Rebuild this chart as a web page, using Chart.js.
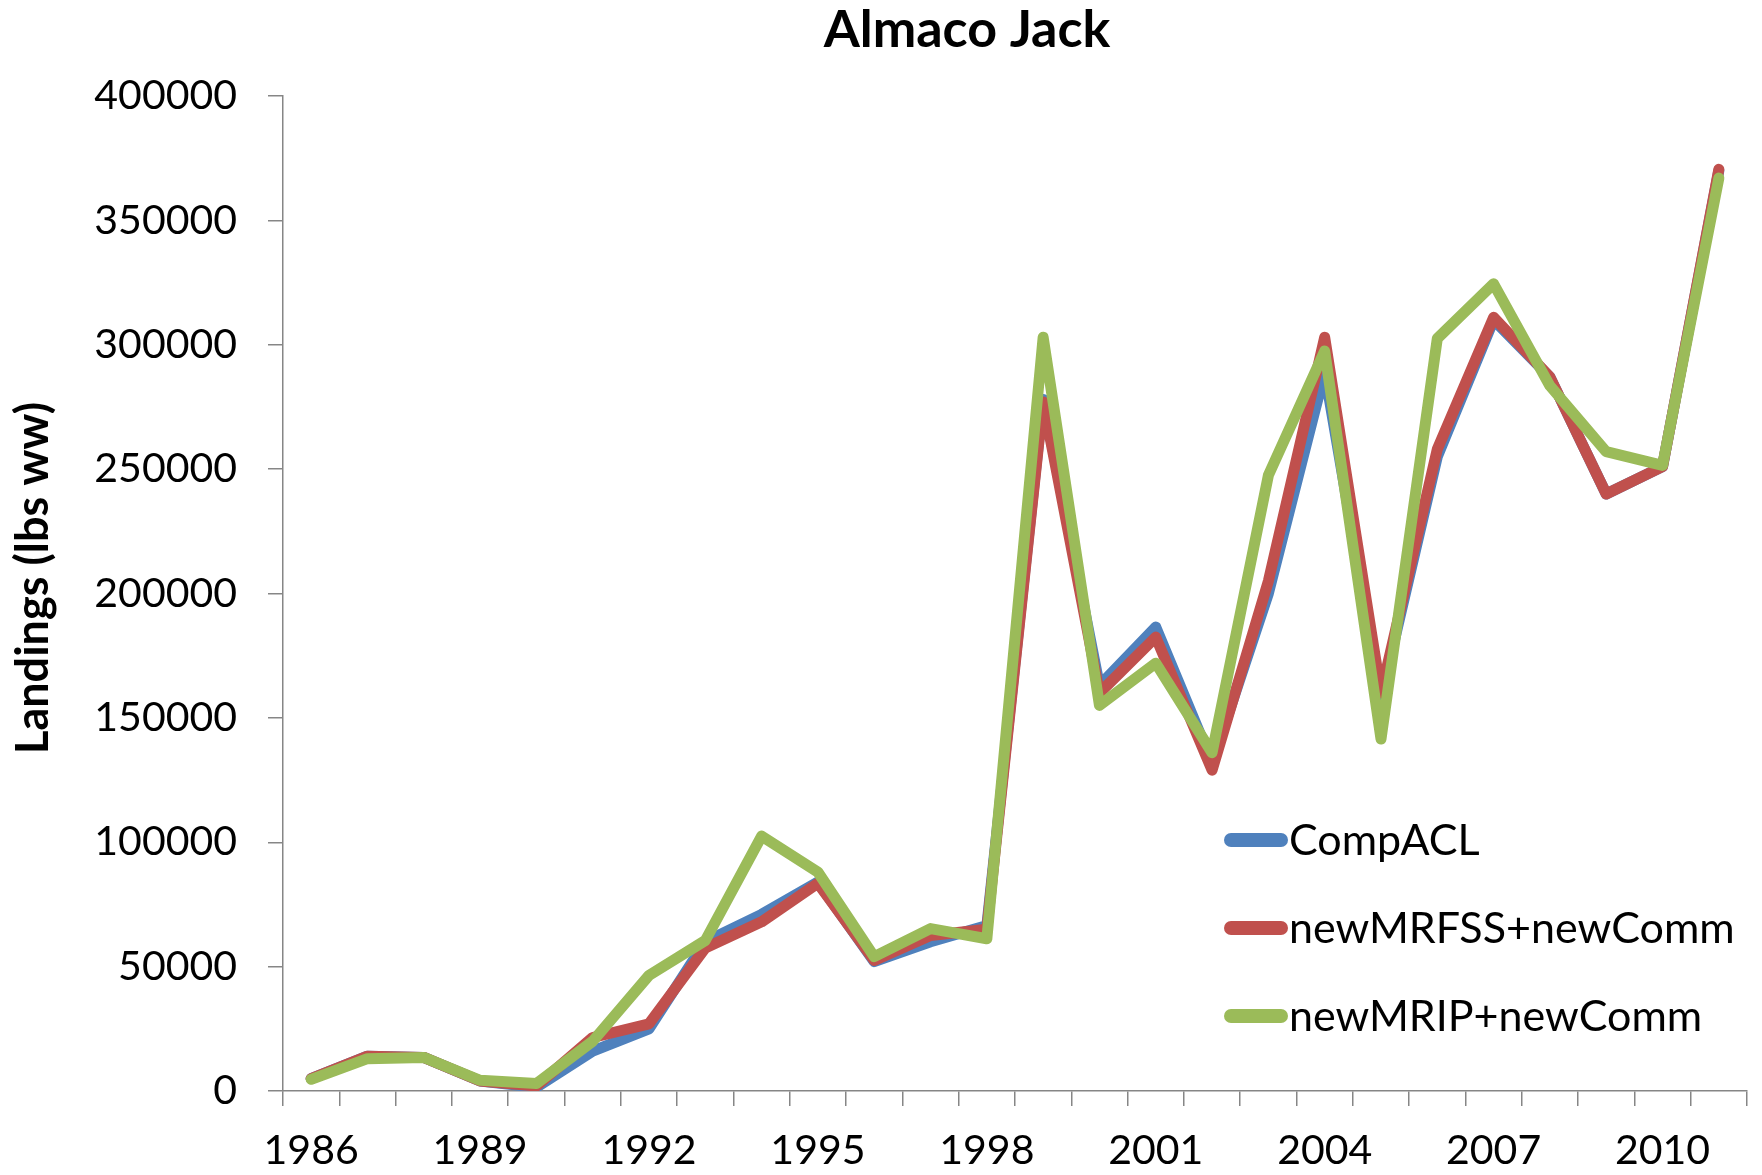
<!DOCTYPE html>
<html>
<head>
<meta charset="utf-8">
<script src="https://cdn.jsdelivr.net/npm/chart.js@4/dist/chart.umd.min.js"></script>
<style>
  html, body { margin: 0; padding: 0; background: #ffffff; }
  #wrap { width: 1762px; height: 1175px; }
</style>
</head>
<body>
<div id="wrap"><canvas id="chart" width="1762" height="1175"></canvas></div>
<script>
// Almaco Jack landings, 1986-2011
const years = [
  "1986", "1987", "1988", "1989", "1990", "1991", "1992", "1993", "1994",
  "1995", "1996", "1997", "1998", "1999", "2000", "2001", "2002", "2003",
  "2004", "2005", "2006", "2007", "2008", "2009", "2010", "2011",
];

const compACL = [
  5000, 14000, 13500, 4000, 1500, 16000, 25000, 60000, 71000,
  84000, 52000, 60000, 66500, 278000, 163000, 186500, 132000, 200000,
  289000, 158000, 255000, 310000, 287000, 240000, 251000, 370000,
];

const newMRFSS = [
  5000, 14000, 13500, 4000, 2000, 21500, 27000, 57500, 68000,
  83500, 52500, 62500, 65000, 277000, 160000, 182500, 129000, 205000,
  303000, 160000, 258000, 311000, 287000, 240000, 251000, 370500,
];

const newMRIP = [
  4700, 13000, 13500, 4300, 3000, 20000, 46500, 60500, 102500,
  88000, 54000, 65300, 61200, 303000, 155000, 172000, 136000, 247500,
  297500, 141500, 302500, 324500, 283500, 257000, 251500, 367000,
];

const seriesNames = ["CompACL", "newMRFSS+newComm", "newMRIP+newComm"];
const seriesColors = ["#4f81bd", "#c0504d", "#9bbb59"];

const AXIS_GREY = "#868686";
const FONT = "Lato, 'Open Sans', sans-serif";

// title, rotated y title and the in-plot legend
const decor = {
  id: "decor",
  afterDraw(chart) {
    const ctx = chart.ctx;
    ctx.save();
    ctx.fillStyle = "#000000";
    ctx.textBaseline = "middle";

    ctx.font = "bold 52px " + FONT;
    ctx.textAlign = "center";
    ctx.fillText("Almaco Jack", 967, 30);

    ctx.save();
    ctx.translate(33, 578);
    ctx.rotate(-Math.PI / 2);
    ctx.font = "bold 45px " + FONT;
    ctx.fillText("Landings (lbs ww)", 0, 0);
    ctx.restore();

    ctx.font = "43px " + FONT;
    ctx.textAlign = "left";
    ctx.lineCap = "round";
    ctx.lineWidth = 14;
    seriesNames.forEach((name, i) => {
      const y = 840 + i * 88;
      ctx.strokeStyle = seriesColors[i];
      ctx.beginPath();
      ctx.moveTo(1231, y);
      ctx.lineTo(1281, y);
      ctx.stroke();
      ctx.fillText(name, 1289, y + 1);
    });
    ctx.restore();
  },
};

function lineSet(label, data, color, order) {
  return {
    label,
    data,
    borderColor: color,
    backgroundColor: color,
    borderWidth: 11,
    borderCapStyle: "round",
    borderJoinStyle: "round",
    pointRadius: 0,
    tension: 0,
    order,
  };
}

new Chart(document.getElementById("chart"), {
  type: "line",
  data: {
    labels: years,
    datasets: [
      lineSet(seriesNames[0], compACL, seriesColors[0], 2),
      lineSet(seriesNames[1], newMRFSS, seriesColors[1], 1),
      lineSet(seriesNames[2], newMRIP, seriesColors[2], 0),
    ],
  },
  options: {
    responsive: false,
    devicePixelRatio: 1,
    animation: false,
    layout: { padding: { top: 96, right: 15, bottom: 0, left: 0 } },
    plugins: {
      legend: { display: false },
      title: { display: false },
      tooltip: { enabled: false },
    },
    scales: {
      x: {
        offset: true,
        afterFit: (scale) => { scale.height = 84; },
        grid: {
          offset: true,
          drawOnChartArea: false,
          tickLength: 15,
          color: AXIS_GREY,
          lineWidth: 1.5,
        },
        border: { color: AXIS_GREY, width: 1.5 },
        ticks: {
          autoSkip: false,
          maxRotation: 0,
          padding: 20,
          color: "#000000",
          font: { family: FONT, size: 41 },
          callback: (v, i) => (i % 3 === 0 ? years[i] : ""),
        },
      },
      y: {
        min: 0,
        max: 400000,
        afterFit: (scale) => { scale.width = 283; },
        grid: {
          drawOnChartArea: false,
          tickLength: 15,
          color: AXIS_GREY,
          lineWidth: 1.5,
        },
        border: { color: AXIS_GREY, width: 1.5 },
        ticks: {
          stepSize: 50000,
          padding: 31,
          color: "#000000",
          font: { family: FONT, size: 41 },
          callback: (v) => String(v),
        },
      },
    },
  },
  plugins: [decor],
});
</script>
</body>
</html>
